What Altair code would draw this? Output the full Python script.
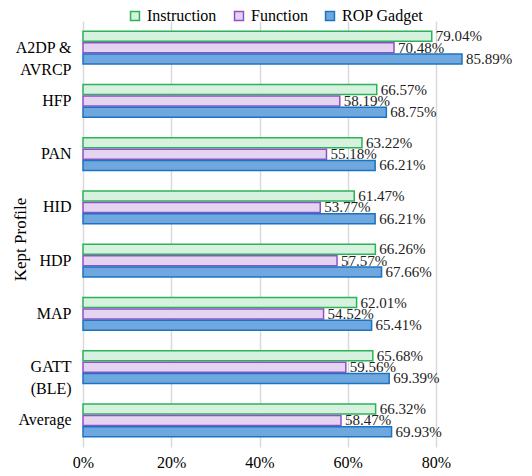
import altair as alt
import pandas as pd

profiles = ["A2DP &\nAVRCP", "HFP", "PAN", "HID", "HDP", "MAP", "GATT\n(BLE)", "Average"]
series = ["Instruction", "Function", "ROP Gadget"]
instruction = [79.04, 66.57, 63.22, 61.47, 66.26, 62.01, 65.68, 66.32]
function = [70.48, 58.19, 55.18, 53.77, 57.57, 54.52, 59.56, 58.47]
rop = [85.89, 68.75, 66.21, 66.21, 67.66, 65.41, 69.39, 69.93]

rows = []
for i, p in enumerate(profiles):
    for s, vals in zip(series, [instruction, function, rop]):
        rows.append({"profile": p, "series": s, "value": vals[i] / 100,
                     "label": f"{vals[i]:.2f}%"})
df = pd.DataFrame(rows)

strokes = ["#2BB35A", "#9250C8", "#1C73C4"]
fills = ["#d6f1de", "#e4d4f0", "#6ea8de"]
font = "Liberation Serif"

y_enc = alt.Y("profile:N", sort=profiles,
              scale=alt.Scale(paddingInner=0.36, paddingOuter=0.18),
              axis=alt.Axis(title="Kept Profile", labelExpr="split(datum.label, '\\n')",
                            labelFontSize=16, titleFontSize=17, labelFont=font, titleFont=font,
                            titleFontWeight="normal",
                            labelColor="#000", titleColor="#000", ticks=False, domain=False,
                            labelPadding=12, titleX=-54, titleY=218,
                            labelLineHeight=22))
yoff = alt.YOffset("series:N", sort=series)
x_scale = alt.Scale(domain=[0, 0.8], nice=False)

bars = alt.Chart(df).mark_bar(strokeWidth=1.5, size=10).encode(
    x=alt.X("value:Q", scale=x_scale,
            axis=alt.Axis(format=".0%", values=[0, 0.2, 0.4, 0.6, 0.8], title=None,
                          labelFontSize=16, labelFont=font, labelColor="#000",
                          labelFlush=False,
                          ticks=False, domain=False, grid=True, gridColor="#d9d9d9",
                          gridWidth=1.5, labelPadding=7)),
    y=y_enc,
    yOffset=yoff,
    fill=alt.Fill("series:N", sort=series,
                  scale=alt.Scale(domain=series, range=fills),
                  legend=alt.Legend(title=None, orient="none", direction="horizontal",
                                    legendX=44, legendY=-13, padding=0, labelFontSize=16,
                                    labelFont=font, labelColor="#000",
                                    symbolType="square", symbolSize=80,
                                    symbolStrokeWidth=1.5, columnPadding=14,
                                    labelOffset=4)),
    stroke=alt.Stroke("series:N", sort=series,
                      scale=alt.Scale(domain=series, range=strokes), legend=None),
)

labels = alt.Chart(df).mark_text(align="left", baseline="middle", dx=4, fontSize=15,
                                 font=font, color="#222").encode(
    x=alt.X("value:Q", scale=x_scale),
    y=alt.Y("profile:N", sort=profiles),
    yOffset=yoff,
    text="label:N",
)

chart = (bars + labels).properties(
    width=353, height=426,
    padding={"left": 3, "top": 0, "right": 0, "bottom": 0},
).configure(background="white", font=font).configure_view(stroke=None)

chart.save("out.html", embed_options={"renderer": "svg", "actions": False})
